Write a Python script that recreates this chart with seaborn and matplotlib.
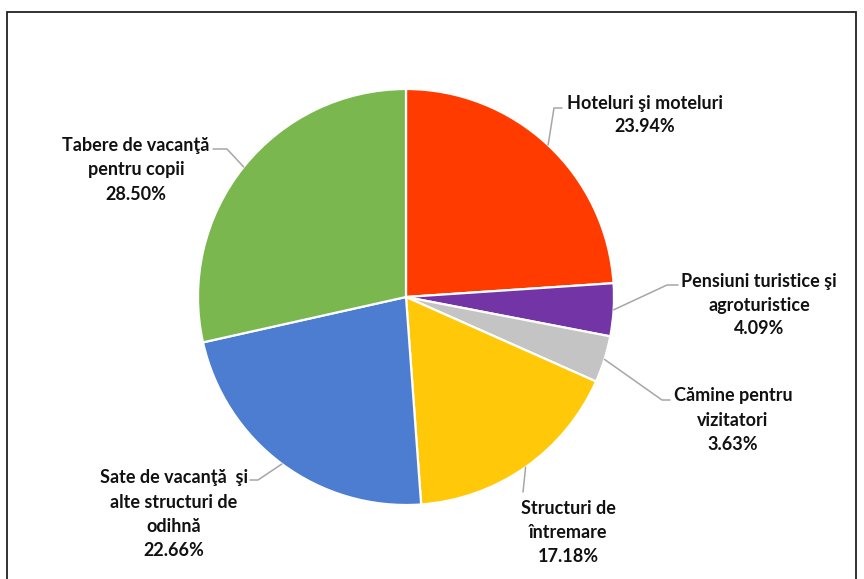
import numpy as np
import matplotlib
matplotlib.use("Agg")
import matplotlib.pyplot as plt
import seaborn as sns

# Structura capacitatii de cazare (%)
categorii = ["Hoteluri şi moteluri", "Pensiuni turistice şi\nagroturistice",
             "Cămine pentru\nvizitatori", "Structuri de\nîntremare",
             "Sate de vacanţă  şi\nalte structuri de\nodihnă",
             "Tabere de vacanţă\npentru copii"]
procente = [23.94, 4.09, 3.63, 17.18, 22.66, 28.50]
culori = ["#FF3B00", "#7334A6", "#C4C4C4", "#FFC90A", "#4C7DD1", "#7AB74F"]

sns.set_theme(style="white")
plt.rcParams["font.family"] = ["Lato", "DejaVu Sans"]

W, H = 864, 579
fig = plt.figure(figsize=(W / 100, H / 100), dpi=100)
ax = fig.add_axes([0, 0, 1, 1])

# centru si raza in pixeli
cx, cy, R = 406, 297, 208


def px(x, y):
    return ((x - cx) / R, (cy - y) / R)


wedges, _ = ax.pie(procente, colors=sns.color_palette(culori), startangle=90,
                   counterclock=False, radius=1.0,
                   wedgeprops=dict(edgecolor="white", linewidth=1.6))
for w in wedges:
    w.set_zorder(2)
# contur gri discret
ax.pie(procente, startangle=90, counterclock=False, radius=1.0,
       colors=["none"] * len(procente),
       wedgeprops=dict(edgecolor="#D0D0D0", linewidth=0.8, fill=False))

# pozitii etichete (pixeli): centru text, cot, capat linie
etichete = [
    ((645, 115), (554, 108), (562, 108)),
    ((759, 305), (667, 285), (678, 285)),
    ((733, 420), (662, 400), (670, 400)),
    ((568, 533), (523, 492), (523, 492)),
    ((174, 514), (258, 480), (250, 480)),
    ((136, 170), (227, 149), (213, 149)),
]

for w, val, cat, (tpos, cot, capat) in zip(wedges, procente, categorii, etichete):
    ang = np.deg2rad((w.theta1 + w.theta2) / 2)
    start = (np.cos(ang), np.sin(ang))
    xs = [start[0], px(*cot)[0], px(*capat)[0]]
    ys = [start[1], px(*cot)[1], px(*capat)[1]]
    ax.plot(xs, ys, color="#A6A6A6", lw=1.1, zorder=3)
    ax.text(*px(*tpos), f"{cat}\n{val:.2f}%", ha="center", va="center",
            fontsize=13, fontweight="bold", color="#111111",
            linespacing=1.5, zorder=4)

ax.set_xlim(-cx / R, (W - cx) / R)
ax.set_ylim(-(H - cy) / R, cy / R)
ax.set_aspect("auto")
ax.axis("off")

# chenar
fig.patches.append(plt.Rectangle((7 / W, -0.05), (856 - 7) / W, (H - 12) / H + 0.05,
                                 transform=fig.transFigure, fill=False,
                                 edgecolor="#222222", linewidth=1.3))

fig.savefig("out.png", dpi=100)
